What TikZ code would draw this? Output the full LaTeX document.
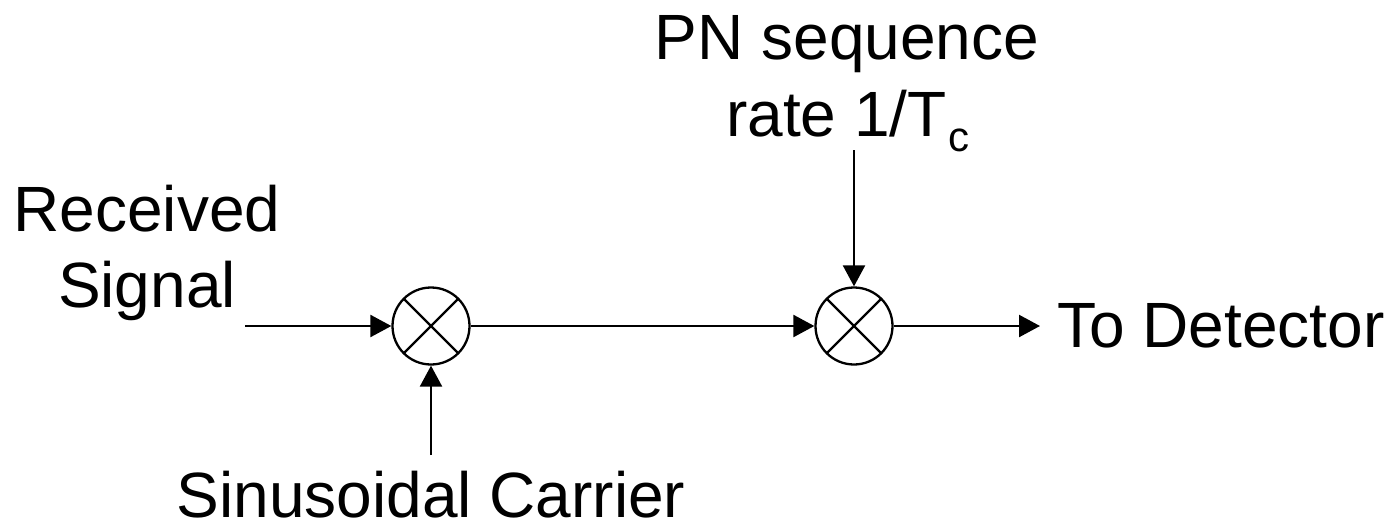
\documentclass[tikz,border=0pt]{standalone}
\usepackage{fontspec}
\setmainfont{Liberation Sans}
\usetikzlibrary{arrows.meta}
\tikzset{
mixer/.style={draw, circle, line width=2.3pt, minimum size=77pt, inner sep=0pt,
  path picture={
  \draw[line width=2.3pt] (path picture bounding box.north west) -- (path picture bounding box.south east);
  \draw[line width=2.3pt] (path picture bounding box.north east) -- (path picture bounding box.south west);
  }},
lbl/.style={font=\fontsize{64}{70}\selectfont, inner sep=0pt, anchor=base},
sig/.style={line width=2.3pt, -{Triangle[length=21pt,width=22pt]}}
}
\begin{document}
\begin{tikzpicture}[x=1pt,y=-1pt]
\useasboundingbox (0,0) rectangle (1399,520);

\node[mixer] (mixa) at (431,326) {};
\node[mixer] (mixb) at (854,326) {};

%%%%%%%%%%%%%%%%%%%%%%%%%%%%%%%
\node[lbl] (rx) at (147,231) {Received};
\node[lbl] (sg) at (147,307) {Signal};
\node[lbl] (pn) at (847,59) {PN sequence};
\node[lbl] (rt) at (848,136) {rate 1/T\hspace{2pt}\raisebox{-15pt}{\fontsize{42}{42}\selectfont c}};
\node[lbl] (ca) at (431,517) {Sinusoidal Carrier};
\node[lbl] (det) at (1221,347) {To Detector};

\coordinate (in) at (245,326);
\coordinate (up) at (431,455);
\coordinate (dn) at (854,150);
\coordinate (out) at (1040,326);

\draw[sig] (in) -- (mixa);
\draw[sig] (up) -- (mixa);
\draw[sig] (mixa) -- (mixb);
\draw[sig] (dn) -- (mixb);
\draw[sig] (mixb) -- (out);
\end{tikzpicture}
\end{document}
